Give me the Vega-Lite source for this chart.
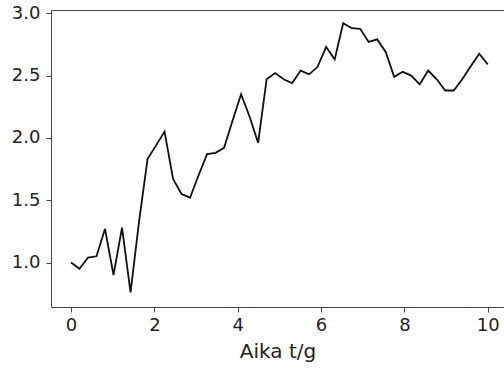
{
  "$schema": "https://vega.github.io/schema/vega-lite/v6.json",
  "autosize": {"type": "none"},
  "padding": {"left": 51, "top": 10, "right": 0, "bottom": 64},
  "width": 453,
  "height": 297,
  "background": "white",
  "config": {
    "view": {"stroke": "#444", "strokeWidth": 1},
    "axis": {
      "grid": false,
      "domain": false,
      "tickColor": "#444",
      "tickSize": 5,
      "tickWidth": 1,
      "labelFont": "DejaVu Sans",
      "labelFontSize": 18,
      "labelColor": "#222",
      "titleFont": "DejaVu Sans",
      "titleFontSize": 20,
      "titleFontWeight": "normal",
      "titleColor": "#222"
    }
  },
  "data": {
    "values": [
      {"t": 0.0, "v": 1.00},
      {"t": 0.204, "v": 0.95},
      {"t": 0.408, "v": 1.04},
      {"t": 0.612, "v": 1.05},
      {"t": 0.816, "v": 1.27},
      {"t": 1.020, "v": 0.90},
      {"t": 1.224, "v": 1.28},
      {"t": 1.429, "v": 0.76},
      {"t": 1.633, "v": 1.33},
      {"t": 1.837, "v": 1.83},
      {"t": 2.041, "v": 1.94},
      {"t": 2.245, "v": 2.05},
      {"t": 2.449, "v": 1.67},
      {"t": 2.653, "v": 1.55},
      {"t": 2.857, "v": 1.52},
      {"t": 3.061, "v": 1.70},
      {"t": 3.265, "v": 1.87},
      {"t": 3.469, "v": 1.88},
      {"t": 3.673, "v": 1.92},
      {"t": 3.878, "v": 2.14},
      {"t": 4.082, "v": 2.35},
      {"t": 4.286, "v": 2.17},
      {"t": 4.490, "v": 1.96},
      {"t": 4.694, "v": 2.47},
      {"t": 4.898, "v": 2.52},
      {"t": 5.102, "v": 2.47},
      {"t": 5.306, "v": 2.44},
      {"t": 5.510, "v": 2.54},
      {"t": 5.714, "v": 2.51},
      {"t": 5.918, "v": 2.57},
      {"t": 6.122, "v": 2.73},
      {"t": 6.327, "v": 2.63},
      {"t": 6.531, "v": 2.92},
      {"t": 6.735, "v": 2.88},
      {"t": 6.939, "v": 2.875},
      {"t": 7.143, "v": 2.77},
      {"t": 7.347, "v": 2.79},
      {"t": 7.551, "v": 2.69},
      {"t": 7.755, "v": 2.49},
      {"t": 7.959, "v": 2.53},
      {"t": 8.163, "v": 2.50},
      {"t": 8.367, "v": 2.43},
      {"t": 8.571, "v": 2.54},
      {"t": 8.776, "v": 2.47},
      {"t": 8.980, "v": 2.38},
      {"t": 9.184, "v": 2.38},
      {"t": 9.388, "v": 2.47},
      {"t": 9.592, "v": 2.575},
      {"t": 9.796, "v": 2.675},
      {"t": 10.0, "v": 2.59}
    ]
  },
  "mark": {"type": "line", "color": "#111", "strokeWidth": 1.8, "clip": true},
  "encoding": {
    "x": {
      "field": "t",
      "type": "quantitative",
      "title": "Aika t/g",
      "scale": {"domain": [-0.48, 10.39], "nice": false, "zero": false},
      "axis": {"values": [0, 2, 4, 6, 8, 10], "format": "d", "labelPadding": 4, "titlePadding": 7}
    },
    "y": {
      "field": "v",
      "type": "quantitative",
      "title": null,
      "scale": {"domain": [0.643, 3.026], "nice": false, "zero": false},
      "axis": {"values": [1.0, 1.5, 2.0, 2.5, 3.0], "format": ".1f", "labelPadding": 6}
    }
  }
}
